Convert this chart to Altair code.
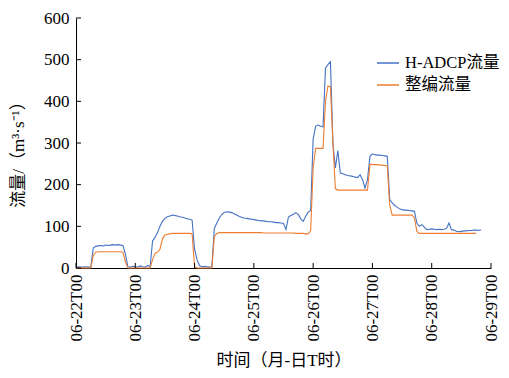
import altair as alt
import pandas as pd

# ---- data (hourly) ----
series_names = ["H-ADCP流量", "整编流量"]
series_colors = ["#4472C4", "#ED7D31"]

# hours since 06-22T00
blue_values = [
    2, 3, 2, 2, 3, 2, 2,
    48, 52, 53, 54, 53, 55, 54, 55, 56, 55, 56, 55, 54, 34, 3,
    2, 4, 3, 2, 5, 3, 2, 6, 3,
    65, 74, 85, 100, 112, 119, 123, 125, 127, 126, 125, 123, 122, 120, 118, 117, 115,
    45, 20, 6, 3, 4, 3, 2, 3,
    95, 108, 120, 128, 133, 135, 134, 133, 130, 127,
    124, 122, 120, 119, 118, 117, 116, 115, 114, 113,
    113, 112, 111, 111, 110, 109, 109, 108, 107, 92,
    122, 126, 129, 133, 128, 118, 112, 124, 134, 138,
    310, 340, 343, 340, 339, 480, 488, 495, 300, 240,
    282, 228, 226, 224, 222, 221, 220, 218, 217, 224,
    212, 192, 212,
    268, 274, 272, 271, 271, 270, 269, 268, 165, 156,
    150, 146, 142, 140, 139, 139, 138, 137, 136,
    108, 100, 104, 98, 92, 93, 94, 93, 92, 93,
    92, 93, 95, 108, 92, 91, 88, 87, 88, 89,
    89, 90, 90, 91, 91, 90, 92,
]

orange_values = [
    0, 0, 0, 0, 0, 0, 0,
    30, 38, 39, 39, 39, 39, 39, 39, 39, 39, 39, 39, 38, 15, 0,
    0, 0, 0, 0, 0, 0, 0, 0, 0,
    20, 35, 38, 45, 70, 79, 81,
    82, 83, 83, 83, 83, 83, 83, 83, 83, 82,
    3, 0, 0, 0, 0, 0, 0, 0,
    75, 83,
    85, 85, 85, 85, 85, 85, 85, 85, 85, 85, 85, 85, 85, 85, 85, 85, 85, 85,
    84, 84, 84, 84, 84, 84, 84, 84, 84, 84, 84, 84, 84,
    83, 83, 83, 83, 82, 82,
    90,
    240, 287, 287, 287, 287, 400, 437, 435, 300, 190,
    187, 187, 187, 187, 187, 187, 187, 187, 187, 187, 187, 187, 187,
    249, 248, 248, 248, 247, 247, 246, 245, 150, 127,
    127, 127, 127, 127, 127, 127, 127, 127, 120,
    88, 83, 83, 83, 83, 83, 83, 83, 83, 83, 83, 83, 83,
    83, 83, 83, 83, 83, 83, 83, 83, 83, 83, 83, 83,
]

x_tick_hours = [0, 24, 48, 72, 96, 120, 144, 168]
x_tick_labels = ["06-22T00", "06-23T00", "06-24T00", "06-25T00",
                 "06-26T00", "06-27T00", "06-28T00", "06-29T00"]
y_tick_values = [0, 100, 200, 300, 400, 500, 600]

rows = [{"h": i, "v": v, "s": series_names[0]} for i, v in enumerate(blue_values)]
rows += [{"h": i, "v": v, "s": series_names[1]} for i, v in enumerate(orange_values)]
df = pd.DataFrame(rows)

FONT = "Liberation Serif, Noto Sans CJK SC, serif"

label_expr = "[" + ",".join("'%s'" % l for l in x_tick_labels) + "][round(datum.value/24)]"

x_scale = alt.Scale(domain=[0, 168], nice=False, zero=False)
y_scale = alt.Scale(domain=[0, 600], nice=False)

x_axis = alt.Axis(values=x_tick_hours, labelExpr=label_expr, labelAngle=270,
                  ticks=False, grid=False, labelPadding=6,
                  title="时间（月-日T时）", titleY=92, titleBaseline="middle")
y_axis = alt.Axis(values=y_tick_values, ticks=False, grid=False, labelPadding=7,
                  title="流量/（m³·s⁻¹）", titleX=-58, titleY=132,
                  titleAngle=270, titleBaseline="middle", titleAlign="center")

lines = alt.Chart(df).mark_line(strokeWidth=1.1).encode(
    x=alt.X("h:Q", scale=x_scale, axis=x_axis),
    y=alt.Y("v:Q", scale=y_scale, axis=y_axis),
    color=alt.Color("s:N", scale=alt.Scale(domain=series_names, range=series_colors),
                    legend=alt.Legend(title=None, orient="none", legendX=300, legendY=33,
                                      symbolType="stroke", symbolSize=484,
                                      symbolStrokeWidth=1.5, labelOffset=5,
                                      labelFontSize=16.5, rowPadding=1, padding=0)),
)

ytick_df = pd.DataFrame({"yt": y_tick_values})
xtick_df = pd.DataFrame({"xt": x_tick_hours})

y_ticks = alt.Chart(ytick_df).mark_rule(color="black", strokeWidth=1).encode(
    y=alt.Y("yt:Q", scale=y_scale, axis=y_axis),
    x=alt.value(0), x2=alt.value(5),
)
x_ticks = alt.Chart(xtick_df).mark_rule(color="black", strokeWidth=1).encode(
    x=alt.X("xt:Q", scale=x_scale, axis=x_axis),
    y=alt.value(250), y2=alt.value(245),
)

chart = alt.layer(lines, y_ticks, x_ticks).properties(
    width=415, height=250,
    padding={"left": 68, "top": 10, "right": 10, "bottom": 100},
    autosize=alt.AutoSizeParams(type="none"),
).configure_view(stroke=None).configure_axis(
    domainColor="black", domainWidth=1,
    labelFont=FONT, labelFontSize=17, labelColor="black",
    titleFont=FONT, titleFontSize=17, titleColor="black", titleFontWeight="normal",
).configure_legend(
    labelFont=FONT, labelFontSize=17, labelColor="black",
)

chart.save("out.html", embed_options={"renderer": "svg", "actions": False})
